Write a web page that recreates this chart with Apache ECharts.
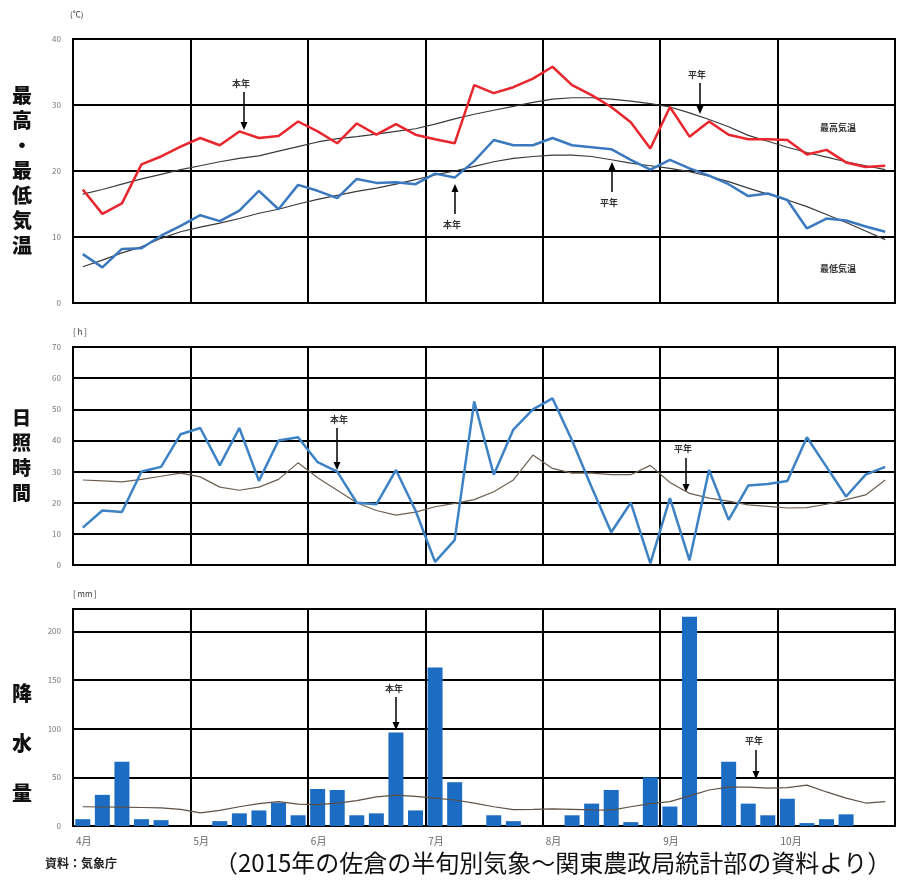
<!DOCTYPE html>
<html>
<head>
<meta charset="utf-8">
<title>2015年 佐倉の半旬別気象</title>
<script src="https://cdn.jsdelivr.net/npm/echarts@6/dist/echarts.min.js"></script>
<style>
  html, body { margin: 0; padding: 0; background: #fff; }
  #chart { width: 904px; height: 880px; }
</style>
</head>
<body>
<div id="chart"></div>
<script>
// 月ラベル（各月6半旬、4月〜10月で42半旬）
const monthLabels = ["4月", "5月", "6月", "7月", "8月", "9月", "10月"];

// 最高気温（本年・平年） ℃
const maxNow = [17.2, 13.5, 15.1, 21.0, 22.2, 23.7, 25.0, 23.9, 26.0, 25.0, 25.3, 27.5, 26.0, 24.2, 27.2, 25.5, 27.1, 25.5, 24.8, 24.2, 33.0, 31.8, 32.7, 34.0, 35.8, 33.0, 31.5, 29.7, 27.4, 23.4, 29.7, 25.2, 27.5, 25.5, 24.8, 24.8, 24.7, 22.5, 23.2, 21.3, 20.6, 20.8];
const maxNormal = [16.5, 17.2, 18.0, 18.8, 19.5, 20.2, 20.8, 21.4, 21.9, 22.3, 23.0, 23.7, 24.4, 24.9, 25.2, 25.6, 26.0, 26.4, 27.1, 27.9, 28.6, 29.2, 29.8, 30.4, 30.9, 31.1, 31.1, 30.9, 30.6, 30.2, 29.7, 28.8, 27.8, 26.7, 25.4, 24.5, 23.6, 22.8, 22.1, 21.4, 20.8, 20.2];

// 最低気温（本年・平年） ℃
const minNow = [7.4, 5.4, 8.2, 8.3, 10.2, 11.7, 13.3, 12.4, 14.0, 17.0, 14.2, 17.9, 17.0, 15.9, 18.8, 18.2, 18.3, 18.0, 19.6, 19.0, 21.5, 24.7, 23.9, 23.9, 25.0, 23.9, 23.6, 23.3, 21.7, 20.2, 21.7, 20.4, 19.3, 18.0, 16.2, 16.6, 15.6, 11.3, 12.8, 12.5, 11.6, 10.8];
const minNormal = [5.5, 6.5, 7.6, 8.5, 9.8, 10.8, 11.5, 12.1, 12.8, 13.6, 14.2, 15.0, 15.7, 16.3, 16.9, 17.4, 18.0, 18.7, 19.4, 20.0, 20.7, 21.4, 21.9, 22.2, 22.4, 22.4, 22.2, 21.7, 21.2, 20.8, 20.4, 19.9, 19.2, 18.4, 17.4, 16.5, 15.6, 14.6, 13.4, 12.2, 10.9, 9.6];

// 日照時間（本年・平年） h
const sunNow = [12, 17.5, 17, 30, 31.5, 42, 44, 32, 44, 27, 40, 41, 33, 30, 20, 19.5, 30.5, 17.5, 1, 8, 52.5, 29, 43.5, 50, 53.5, 40, 25, 10.5, 20, 0.5, 21.5, 1.5, 30.5, 14.5, 25.5, 26, 27, 41, 31.5, 22, 29, 31.5];
const sunNormal = [27.3, 27, 26.7, 27.5, 28.5, 29.5, 28.3, 25, 24, 25, 27.5, 32.8, 28, 24, 20, 17.5, 16, 17, 18.7, 19.8, 21, 23.5, 27.3, 35.3, 31, 29.5, 29.5, 29, 29, 32, 26.5, 23, 21.5, 20.5, 19.3, 18.8, 18.3, 18.4, 19.5, 21, 22.5, 27.3];

// 降水量（本年・平年） mm
const rainNow = [7, 32, 66, 7, 6, 0, 0, 5, 13, 16, 24, 11, 38, 37, 11, 13, 96, 16, 163, 45, 0, 11, 5, 0, 0, 11, 23, 37, 4, 50, 20, 215, 0, 66, 23, 11, 28, 3, 7, 12, 0, 0];
const rainNormal = [19.8, 19.5, 19.3, 19, 18.7, 17, 13.5, 16, 19.8, 23, 25, 22.5, 22, 23.6, 26, 30, 31.8, 30.5, 28.7, 26.7, 23.5, 19.8, 16.8, 17, 17.5, 17, 16.5, 16.4, 19.8, 23, 25, 31, 37, 40, 40, 39, 39.5, 42, 35, 28.7, 23.6, 25];

const pts = (arr) => arr.map((v, i) => [i + 0.5, v]);

const chartDom = document.getElementById("chart");
const chart = echarts.init(chartDom);

const gridLine = { lineStyle: { color: "#000", width: 2 } };
const yLabel = { color: "#777", fontSize: 8, margin: 12 };

const xAxisBase = (gridIndex, showLabel) => ({
  type: "value",
  gridIndex: gridIndex,
  min: 0,
  max: 42,
  interval: 6,
  axisLine: { show: false },
  axisTick: { show: false },
  splitLine: gridLine,
  axisLabel: {
    show: showLabel,
    color: "#666",
    fontSize: 10,
    align: "left",
    margin: 10,
    padding: [0, 0, 0, 3],
    showMaxLabel: false,
    formatter: (v) => monthLabels[v / 6] || ""
  }
});

const yAxisBase = (gridIndex, max, interval) => ({
  type: "value",
  gridIndex: gridIndex,
  min: 0,
  max: max,
  interval: interval,
  axisLine: { show: false },
  axisTick: { show: false },
  splitLine: gridLine,
  axisLabel: Object.assign({ showMaxLabel: max % interval === 0 }, yLabel)
});

const thin = (color) => ({ color: color, width: 1.2 });

// 矢印付き注記
const txt = (x, y, text, size, weight) => ({
  type: "text",
  left: x,
  top: y,
  style: { text: text, fontSize: size || 9, fontWeight: weight || "bold", fill: "#333", fontFamily: "Noto Sans CJK JP" }
});
const arrow = (x, y1, y2) => {
  const dir = y2 > y1 ? 1 : -1;
  return [
    { type: "line", shape: { x1: x, y1: y1, x2: x, y2: y2 - dir * 6 }, style: { stroke: "#000", lineWidth: 1.5 } },
    { type: "polygon", shape: { points: [[x - 3.5, y2 - dir * 8], [x + 3.5, y2 - dir * 8], [x, y2]] }, style: { fill: "#000" } }
  ];
};

const option = {
  backgroundColor: "#fff",
  animation: false,
  textStyle: { fontFamily: "Noto Sans CJK JP" },
  grid: [
    { left: 73, right: 9, top: 39, height: 264, show: true, borderColor: "#000", borderWidth: 2, backgroundColor: "transparent" },
    { left: 73, right: 9, top: 347, height: 218, show: true, borderColor: "#000", borderWidth: 2, backgroundColor: "transparent" },
    { left: 73, right: 9, top: 609, height: 217, show: true, borderColor: "#000", borderWidth: 2, backgroundColor: "transparent" }
  ],
  xAxis: [xAxisBase(0, false), xAxisBase(1, false), xAxisBase(2, true)],
  yAxis: [yAxisBase(0, 40, 10), yAxisBase(1, 70, 10), yAxisBase(2, 223, 50)],
  series: [
    { name: "最高気温平年", type: "line", xAxisIndex: 0, yAxisIndex: 0, data: pts(maxNormal), symbol: "none", lineStyle: thin("#3a3a3a"), z: 3 },
    { name: "最高気温本年", type: "line", xAxisIndex: 0, yAxisIndex: 0, data: pts(maxNow), symbol: "none", lineStyle: { color: "#e8262d", width: 2.5 }, z: 4 },
    { name: "最低気温平年", type: "line", xAxisIndex: 0, yAxisIndex: 0, data: pts(minNormal), symbol: "none", lineStyle: thin("#3a3a3a"), z: 3 },
    { name: "最低気温本年", type: "line", xAxisIndex: 0, yAxisIndex: 0, data: pts(minNow), symbol: "none", lineStyle: { color: "#3a78bf", width: 2.5 }, z: 4 },
    { name: "日照時間平年", type: "line", xAxisIndex: 1, yAxisIndex: 1, data: pts(sunNormal), symbol: "none", lineStyle: thin("#6e6050"), z: 3 },
    { name: "日照時間本年", type: "line", xAxisIndex: 1, yAxisIndex: 1, data: pts(sunNow), symbol: "none", lineStyle: { color: "#3d82c4", width: 2.5 }, z: 4 },
    { name: "降水量本年", type: "bar", xAxisIndex: 2, yAxisIndex: 2, data: pts(rainNow), barWidth: 15, itemStyle: { color: "#1b6cc2" }, z: 3 },
    { name: "降水量平年", type: "line", xAxisIndex: 2, yAxisIndex: 2, data: pts(rainNormal), symbol: "none", lineStyle: thin("#5e5046"), z: 4 }
  ],
  graphic: [
    // 縦書きタイトル
    { type: "text", left: 12, top: 83, style: { text: "最\n高\n・\n最\n低\n気\n温", fontSize: 20, lineHeight: 25, fontWeight: 900, fill: "#111", fontFamily: "Noto Sans CJK JP" } },
    { type: "text", left: 12, top: 405, style: { text: "日\n照\n時\n間", fontSize: 19, lineHeight: 25, fontWeight: 900, fill: "#111", fontFamily: "Noto Sans CJK JP" } },
    { type: "text", left: 12, top: 668, style: { text: "降\n水\n量", fontSize: 20, lineHeight: 50, fontWeight: 900, fill: "#111", fontFamily: "Noto Sans CJK JP" } },
    // 単位
    txt(70, 10, "(℃)", 8, "normal"),
    txt(73, 328, "[ h ]", 8, "normal"),
    txt(73, 590, "[ mm ]", 8, "normal"),
    // 気温の注記
    txt(232, 79, "本年"), ...arrow(244, 92, 130),
    txt(688, 70, "平年"), ...arrow(700, 83, 114),
    txt(443, 220, "本年"), ...arrow(455, 214, 184),
    txt(600, 198, "平年"), ...arrow(612, 192, 162),
    txt(820, 123, "最高気温"),
    txt(820, 264, "最低気温"),
    // 日照の注記
    txt(330, 415, "本年"), ...arrow(337, 428, 470),
    txt(674, 444, "平年"), ...arrow(686, 458, 492),
    // 降水の注記
    txt(385, 684, "本年"), ...arrow(396, 697, 730),
    txt(745, 736, "平年"), ...arrow(756, 750, 779),
    // 出典
    { type: "text", left: 45, top: 857, style: { text: "資料：気象庁", fontSize: 12, fontWeight: "bold", fill: "#222", fontFamily: "Noto Sans CJK JP" } },
    { type: "text", left: 214, top: 851, style: { text: "（2015年の佐倉の半旬別気象～関東農政局統計部の資料より）", fontSize: 24, fill: "#111", fontFamily: "Noto Sans CJK JP" } }
  ]
};

chart.setOption(option);
window.addEventListener("resize", () => chart.resize());
</script>
</body>
</html>
